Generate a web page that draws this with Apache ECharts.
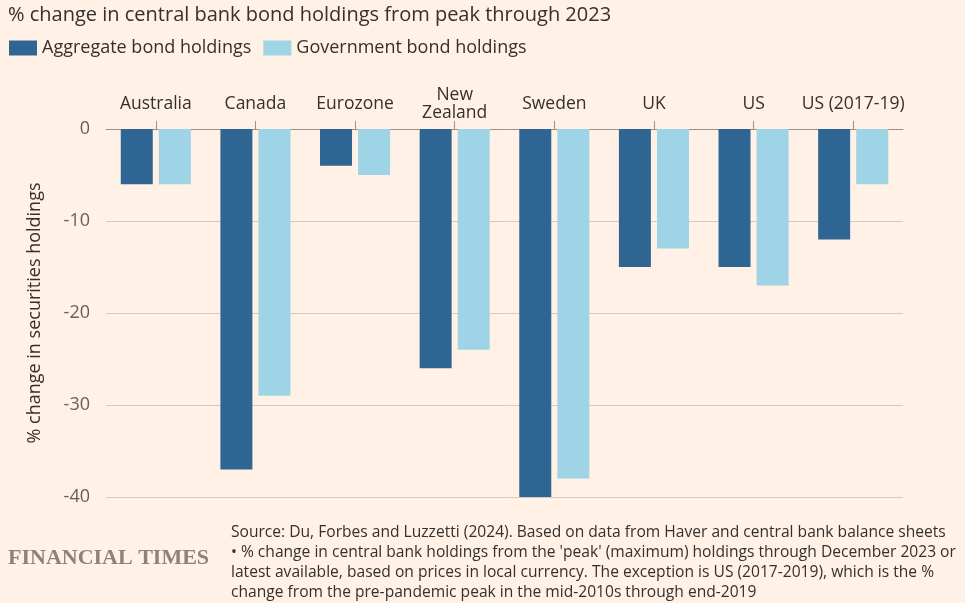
<!DOCTYPE html>
<html><head><meta charset="utf-8">
<script src="https://cdn.jsdelivr.net/npm/echarts@6/dist/echarts.min.js"></script>
<style>html,body{margin:0;padding:0;background:#fff1e5}#c{width:965px;height:603px}</style>
</head><body><div id="c"></div>
<script>
var categories = ['Australia','Canada','Eurozone','New Zealand','Sweden','UK','US','US (2017-19)'];
var aggregate = [-6,-37,-4,-26,-40,-15,-15,-12];
var government = [-6,-29,-5,-24,-38,-13,-17,-6];
var yTicks = {min:-40, max:0, interval:10};
var seriesNames = ['Aggregate bond holdings','Government bond holdings'];
var FONT = 'Open Sans';
var chart = echarts.init(document.getElementById('c'));
chart.setOption({
  backgroundColor:'#fff1e5',
  animation:false,
  title:{text:'% change in central bank bond holdings from peak through 2023',left:3,top:0,
    textStyle:{fontFamily:FONT,fontSize:20,fontWeight:'normal',color:'#33302e'}},
  legend:{left:4,top:34,itemWidth:28,itemHeight:15,itemGap:12,icon:'rect',
    textStyle:{fontFamily:FONT,fontSize:18,color:'#33302e'},data:seriesNames},
  grid:{left:106,right:62,top:129,bottom:106},
  xAxis:{type:'category',data:categories,position:'top',
    axisLine:{lineStyle:{color:'#9b9089',width:1}},
    axisTick:{show:true,alignWithLabel:true,length:8,lineStyle:{color:'#9b9089'}},
    axisLabel:{interval:0,fontFamily:FONT,fontSize:17.5,color:'#33302e',margin:25,lineHeight:18,verticalAlign:'middle',
      formatter:function(v){return v.replace('New ','New\n');}}},
  yAxis:{type:'value',min:yTicks.min,max:yTicks.max,interval:yTicks.interval,
    name:'% change in securities holdings',nameLocation:'middle',nameGap:62,
    nameTextStyle:{fontFamily:FONT,fontSize:18,color:'#33302e'},
    axisLine:{show:false},axisTick:{show:false},
    axisLabel:{fontFamily:FONT,fontSize:18,color:'#66605c',margin:16},
    splitLine:{lineStyle:{color:'#d6cac0',width:1}}},
  series:[
    {name:seriesNames[0],type:'bar',data:aggregate,barWidth:32,barGap:'19%',itemStyle:{color:'#2f6592'}},
    {name:seriesNames[1],type:'bar',data:government,barWidth:32,itemStyle:{color:'#9ed4e6'}}
  ],
  graphic:[
    {type:'text',left:8,top:547,style:{text:'FINANCIAL TIMES',fontFamily:'Liberation Serif',fontSize:22,fontWeight:'bold',fill:'#8c8279'}},
    {type:'text',left:231,top:523,style:{text:"Source: Du, Forbes and Luzzetti (2024). Based on data from Haver and central bank balance sheets\n\u2022 % change in central bank holdings from the 'peak' (maximum) holdings through December 2023 or\nlatest available, based on prices in local currency. The exception is US (2017-2019), which is the %\nchange from the pre-pandemic peak in the mid-2010s through end-2019",
      fontFamily:FONT,fontSize:15.6,lineHeight:20,fill:'#33302e'}}
  ]
});
</script></body></html>
